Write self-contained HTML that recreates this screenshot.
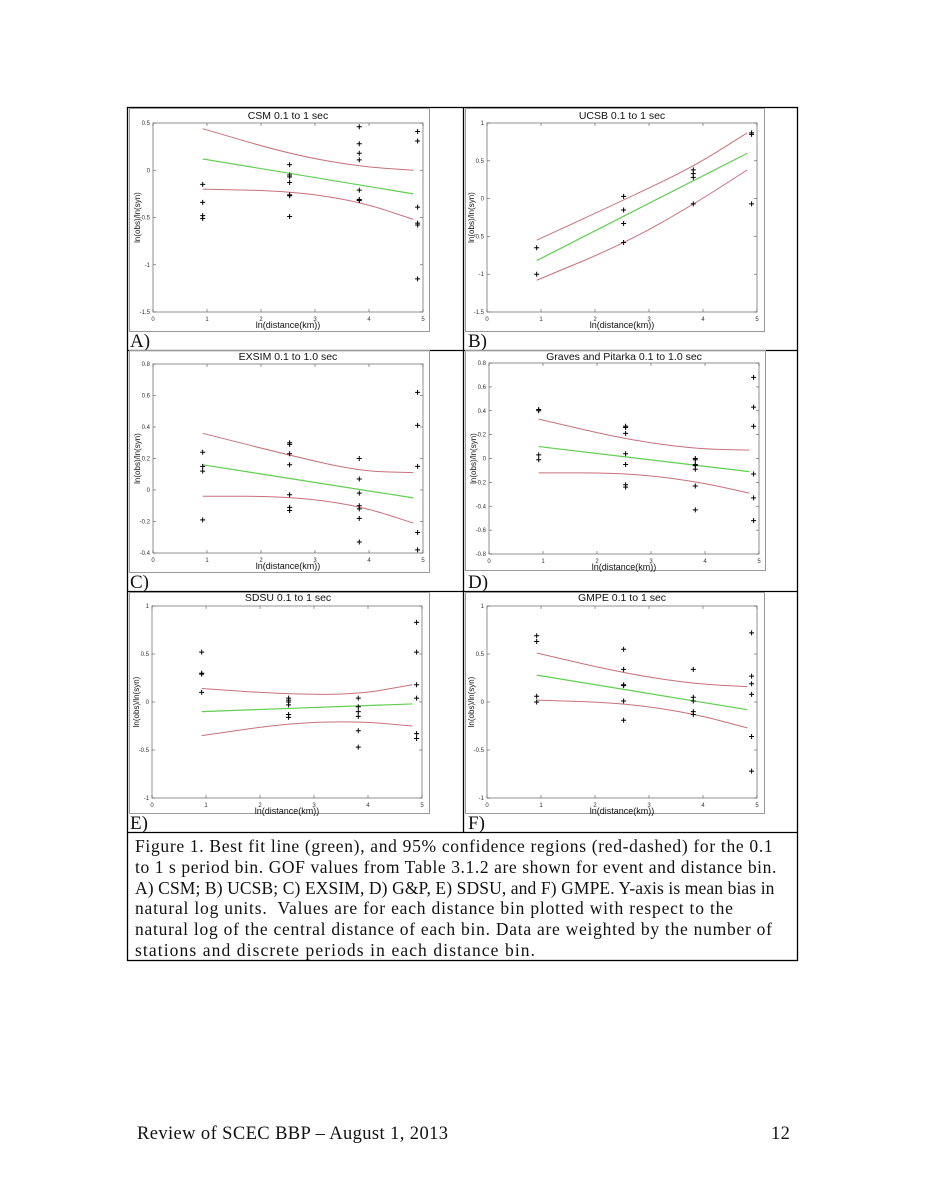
<!DOCTYPE html>
<html><head><meta charset="utf-8">
<style>
body{margin:0;background:#fff;}
#page{position:relative;width:926px;height:1198px;background:#fff;overflow:hidden;font-family:"Liberation Serif",serif;}
.cap{position:absolute;left:135px;top:836px;width:670px;font-size:17.5px;line-height:20.8px;color:#111;white-space:nowrap;}
.cap span{display:block;}
.foot{position:absolute;top:1124px;font-size:18.5px;color:#111;letter-spacing:0.4px;}
svg text{font-family:"Liberation Sans",sans-serif;}
</style></head><body><div id="page">
<svg id="s" width="926" height="1198" style="position:absolute;left:0;top:0">
<g fill="none" stroke="#000" stroke-width="1.3">
<rect x="127.5" y="107.5" width="670" height="853"/>
<line x1="127" y1="350.5" x2="798" y2="350.5"/>
<line x1="127" y1="591.5" x2="798" y2="591.5"/>
<line x1="127" y1="832.5" x2="798" y2="832.5"/>
<line x1="463.5" y1="107" x2="463.5" y2="832"/>
</g>
<g font-size="19" fill="#111">
<text x="130" y="347" style="font-family:'Liberation Serif',serif">A)</text>
<text x="468" y="347" style="font-family:'Liberation Serif',serif">B)</text>
<text x="130" y="588" style="font-family:'Liberation Serif',serif">C)</text>
<text x="468" y="588" style="font-family:'Liberation Serif',serif">D)</text>
<text x="130" y="829" style="font-family:'Liberation Serif',serif">E)</text>
<text x="468" y="829" style="font-family:'Liberation Serif',serif">F)</text>
</g>
<g font-size="10.5" text-anchor="middle" fill="#111">
<text x="288" y="119">CSM 0.1 to 1 sec</text>
<text x="622" y="119">UCSB 0.1 to 1 sec</text>
<text x="288" y="360">EXSIM 0.1 to 1.0 sec</text>
<text x="624" y="360">Graves and Pitarka 0.1 to 1.0 sec</text>
<text x="288" y="601">SDSU 0.1 to 1 sec</text>
<text x="622" y="601">GMPE 0.1 to 1 sec</text>
</g>
</svg>
<div class="cap"><span style="letter-spacing:0.68px">Figure 1. Best fit line (green), and 95% confidence regions (red-dashed) for the 0.1</span><span style="letter-spacing:0.59px">to 1 s period bin. GOF values from Table 3.1.2 are shown for event and distance bin.</span><span style="letter-spacing:0.11px">A) CSM; B) UCSB; C) EXSIM, D) G&amp;P, E) SDSU, and F) GMPE. Y-axis is mean bias in</span><span style="letter-spacing:0.8px">natural log units.&nbsp; Values are for each distance bin plotted with respect to the</span><span style="letter-spacing:0.74px">natural log of the central distance of each bin. Data are weighted by the number of</span><span style="letter-spacing:1.1px">stations and discrete periods in each distance bin.</span></div>
<div class="foot" style="left:137px">Review of SCEC BBP – August 1, 2013</div>
<div class="foot" style="left:771px">12</div>
</div>
<script>
var NS="http://www.w3.org/2000/svg",S=document.getElementById("s");
function el(t,a,txt){var e=document.createElementNS(NS,t);for(var k in a)e.setAttribute(k,a[k]);if(txt!=null)e.textContent=txt;S.appendChild(e);return e;}
var X=[0.92,2.53,3.82,4.82];
var P=[
{x0:153,x1:423,y0:123,y1:312,fr:[129,108,429,331],ymin:-1.5,ymax:0.5,yt:[0.5,0,-0.5,-1,-1.5],
 pts:[[0.92,[-0.15,-0.34,-0.48,-0.51]],[2.53,[0.06,-0.05,-0.07,-0.13,-0.26,-0.27,-0.49]],[3.82,[0.46,0.28,0.18,0.11,-0.21,-0.31,-0.32]],[4.9,[0.41,0.31,-0.39,-0.56,-0.58,-1.15]]],
 g:[0.12,-0.25],u:[0.44,0.17,0.04,0.0],l:[-0.2,-0.22,-0.33,-0.52]},
{x0:487,x1:757,y0:123,y1:312,fr:[465,108,764,331],ymin:-1.5,ymax:1,yt:[1,0.5,0,-0.5,-1,-1.5],
 pts:[[0.92,[-0.65,-1.0]],[2.53,[0.03,-0.15,-0.33,-0.58]],[3.82,[0.38,0.33,0.28,-0.07]],[4.9,[0.87,0.85,-0.07]]],
 g:[-0.82,0.6],u:[-0.55,-0.02,0.42,0.87],l:[-1.08,-0.6,-0.08,0.38]},
{x0:153,x1:423,y0:364,y1:553,fr:[129,350,429,572],ymin:-0.4,ymax:0.8,yt:[0.8,0.6,0.4,0.2,0,-0.2,-0.4],
 pts:[[0.92,[0.24,0.15,0.12,-0.19]],[2.53,[0.3,0.29,0.23,0.16,-0.03,-0.11,-0.13]],[3.82,[0.2,0.07,-0.02,-0.1,-0.12,-0.18,-0.33]],[4.9,[0.62,0.41,0.15,-0.27,-0.38]]],
 g:[0.16,-0.05],u:[0.36,0.22,0.12,0.11],l:[-0.04,-0.04,-0.1,-0.21]},
{x0:489,x1:759,y0:363,y1:554,fr:[465,350,765,570],ymin:-0.8,ymax:0.8,yt:[0.8,0.6,0.4,0.2,0,-0.2,-0.4,-0.6,-0.8],
 pts:[[0.92,[0.41,0.4,0.03,-0.01]],[2.53,[0.27,0.26,0.21,0.04,-0.05,-0.22,-0.24]],[3.82,[0,-0.01,-0.05,-0.06,-0.09,-0.23,-0.43]],[4.9,[0.68,0.43,0.27,-0.13,-0.33,-0.52]]],
 g:[0.1,-0.11],u:[0.33,0.16,0.08,0.07],l:[-0.12,-0.12,-0.19,-0.29]},
{x0:152,x1:422,y0:606,y1:798,fr:[129,592,429,813],ymin:-1,ymax:1,yt:[1,0.5,0,-0.5,-1],
 pts:[[0.92,[0.52,0.3,0.29,0.1]],[2.53,[0.04,0.02,0,-0.03,-0.13,-0.16]],[3.82,[0.04,-0.05,-0.1,-0.15,-0.3,-0.47]],[4.9,[0.83,0.52,0.18,0.04,-0.33,-0.38]]],
 g:[-0.1,-0.02],u:[0.14,0.08,0.08,0.18],l:[-0.35,-0.22,-0.2,-0.25]},
{x0:487,x1:757,y0:606,y1:798,fr:[465,592,764,813],ymin:-1,ymax:1,yt:[1,0.5,0,-0.5,-1],
 pts:[[0.92,[0.69,0.63,0.06,0]],[2.53,[0.55,0.34,0.18,0.17,0.01,-0.19]],[3.82,[0.34,0.05,0.01,-0.1,-0.13]],[4.9,[0.72,0.27,0.19,0.08,-0.36,-0.72]]],
 g:[0.28,-0.08],u:[0.51,0.3,0.19,0.16],l:[0.02,-0.01,-0.12,-0.27]}
];
P.forEach(function(p){
 var fx=function(v){return p.x0+(p.x1-p.x0)*v/5;},fy=function(v){return p.y1-(p.y1-p.y0)*(v-p.ymin)/(p.ymax-p.ymin);};
 el("rect",{x:p.fr[0]+.5,y:p.fr[1]+.5,width:p.fr[2]-p.fr[0],height:p.fr[3]-p.fr[1],fill:"none",stroke:"#999","stroke-width":1});
 el("rect",{x:p.x0,y:p.y0,width:p.x1-p.x0,height:p.y1-p.y0,fill:"none",stroke:"#777","stroke-width":0.8});
 for(var i=0;i<=5;i++){var x=fx(i);el("line",{x1:x,y1:p.y1,x2:x,y2:p.y1-3,stroke:"#555","stroke-width":.6});el("line",{x1:x,y1:p.y0,x2:x,y2:p.y0+3,stroke:"#555","stroke-width":.6});el("text",{x:x,y:p.y1+9,"font-size":6,"text-anchor":"middle",fill:"#333"},""+i);}
 p.yt.forEach(function(v){var y=fy(v);el("line",{x1:p.x0,y1:y,x2:p.x0+3,y2:y,stroke:"#555","stroke-width":.6});el("line",{x1:p.x1,y1:y,x2:p.x1-3,y2:y,stroke:"#555","stroke-width":.6});el("text",{x:p.x0-3,y:y+2,"font-size":6,"text-anchor":"end",fill:"#333"},""+v);});
 el("text",{x:(p.x0+p.x1)/2,y:p.y1+16,"font-size":9,"text-anchor":"middle",fill:"#111"},"ln(distance(km))");
 var cy=(p.y0+p.y1)/2;el("text",{x:p.x0-13,y:cy,"font-size":8,"text-anchor":"middle",fill:"#111",transform:"rotate(-90 "+(p.x0-13)+" "+cy+")"},"ln(obs)/ln(syn)");
 function curve(a,c){var d="M"+fx(X[0])+" "+fy(a[0]);for(var i=1;i<4;i++){var mx=(X[i-1]+X[i])/2;d+=" Q"+fx(X[i-1])+" "+fy(a[i-1])+" "+fx(mx)+" "+fy((a[i-1]+a[i])/2);}d+=" L"+fx(X[3])+" "+fy(a[3]);el("path",{d:d,fill:"none",stroke:c,"stroke-width":1});}
 curve(p.u,"#c8707a");curve(p.l,"#c8707a");
 el("line",{x1:fx(0.92),y1:fy(p.g[0]),x2:fx(4.82),y2:fy(p.g[1]),stroke:"#5fcf4f","stroke-width":1.2});
 p.pts.forEach(function(q){var x=fx(q[0]);q[1].forEach(function(v){var y=fy(v);el("path",{d:"M"+(x-2.5)+" "+y+"h5M"+x+" "+(y-2.5)+"v5",stroke:"#000","stroke-width":1});});});
});
</script>
</body></html>
